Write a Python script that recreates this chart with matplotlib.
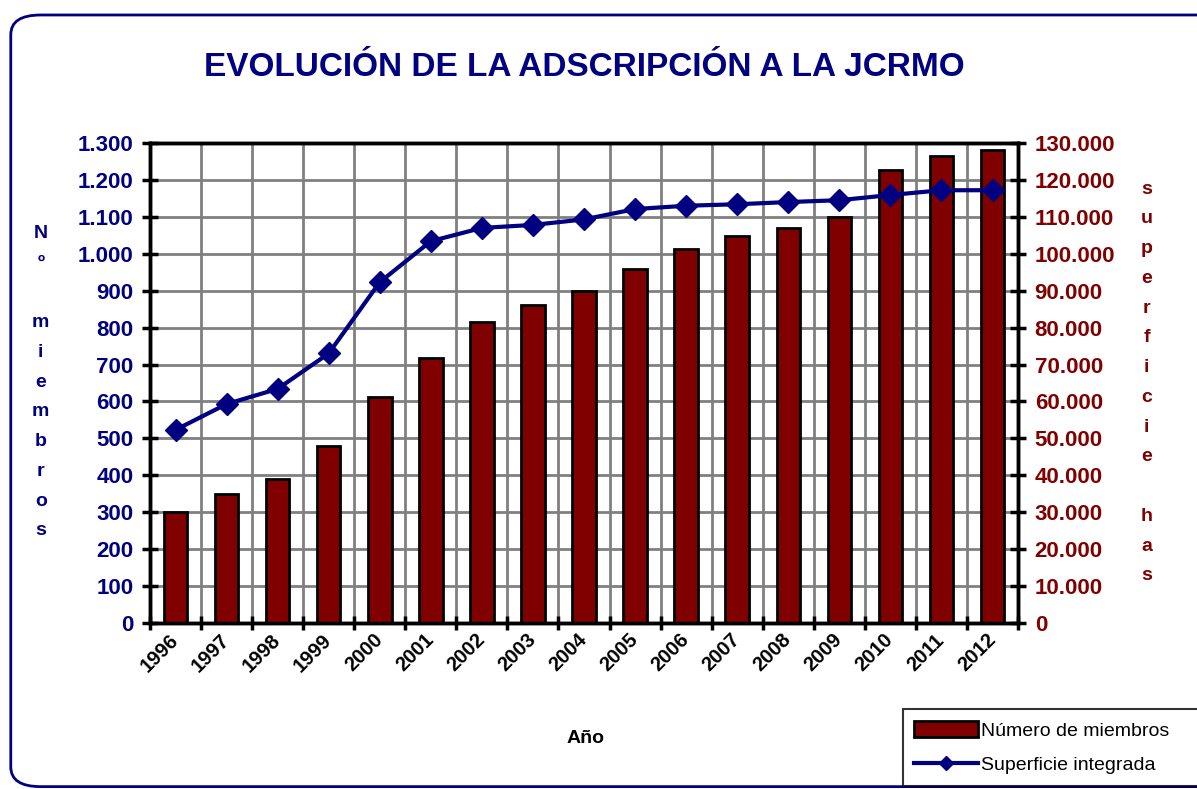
import numpy as np
import matplotlib
matplotlib.use("Agg")
import matplotlib.pyplot as plt
from matplotlib.ticker import FuncFormatter, FixedLocator, NullFormatter
from matplotlib.patches import FancyBboxPatch
from matplotlib.lines import Line2D
from matplotlib.patches import Patch

plt.rcParams['font.family'] = ['Liberation Sans', 'DejaVu Sans']

# data
years = ['1996', '1997', '1998', '1999', '2000', '2001', '2002', '2003', '2004',
         '2005', '2006', '2007', '2008', '2009', '2010', '2011', '2012']
miembros = [300, 348, 390, 480, 613, 718, 814, 860, 898,
            960, 1013, 1047, 1070, 1100, 1227, 1265, 1280]
superficie = [52300, 59300, 63400, 73000, 92300, 103400, 107000, 107800, 109300,
              112100, 113000, 113400, 114000, 114500, 115900, 117200, 117200]

navy = '#000080'
maroon = '#800000'

def miles(v, pos):
    return f"{int(round(v)):,}".replace(',', '.')

fig = plt.figure(figsize=(11.97, 7.89), dpi=100)
ax = fig.add_axes([0.1253, 0.2104, 0.7252, 0.6084])
ax2 = ax.twinx()

x = np.arange(len(years))
ax.bar(x, miembros, width=0.46, color=maroon, edgecolor='black', linewidth=2, zorder=3)
ax2.plot(x, superficie, color=navy, lw=3, marker='D', markersize=11, zorder=4)

ax.set_xlim(-0.5, len(years) - 0.5)
ax.set_ylim(0, 1300)
ax2.set_ylim(0, 130000)
ax.set_yticks(np.arange(0, 1301, 100))
ax2.set_yticks(np.arange(0, 130001, 10000))
ax.yaxis.set_major_formatter(FuncFormatter(miles))
ax2.yaxis.set_major_formatter(FuncFormatter(miles))

# category boundaries carry ticks and vertical gridlines; labels sit at centers
ax.xaxis.set_major_locator(FixedLocator(np.arange(-0.5, len(years), 1.0)))
ax.xaxis.set_major_formatter(NullFormatter())
ax.xaxis.set_minor_locator(FixedLocator(x))
ax.set_xticklabels(years, minor=True)
ax.tick_params(axis='x', which='minor', length=0, pad=10)
for lab in ax.get_xticklabels(minor=True):
    lab.set_rotation(45)
    lab.set_ha('right')
    lab.set_va('center')
    lab.set_rotation_mode('anchor')
    lab.set_fontsize(14.5)
    lab.set_fontweight('bold')

ax.grid(True, which='major', color='#808080', lw=2, zorder=0)
ax.set_axisbelow(True)

ax.tick_params(axis='x', which='major', direction='inout', length=10, width=2.5)
ax.tick_params(axis='y', direction='inout', length=12, width=2.5,
               labelsize=16, labelcolor=navy, pad=6)
ax2.tick_params(axis='y', direction='inout', length=12, width=2.5,
                labelsize=16, labelcolor=maroon, pad=6)
for lab in ax.get_yticklabels():
    lab.set_fontweight('bold')
for lab in ax2.get_yticklabels():
    lab.set_fontweight('bold')
for a in (ax, ax2):
    for s in a.spines.values():
        s.set_linewidth(2.5)
        s.set_color('black')

fig.text(0.488, 0.915, 'EVOLUCIÓN DE LA ADSCRIPCIÓN A LA JCRMO',
         fontsize=24, fontweight='bold', color=navy, ha='center', va='center')

fig.text(0.034, 0.715, '\n'.join(['N', 'º', '', 'm', 'i', 'e', 'm', 'b', 'r', 'o', 's']),
         fontsize=14, fontweight='bold', color=navy, ha='center', va='top',
         linespacing=1.98)
fig.text(0.958, 0.771, '\n'.join(['s', 'u', 'p', 'e', 'r', 'f', 'i', 'c', 'i', 'e', '', 'h', 'a', 's']),
         fontsize=14, fontweight='bold', color=maroon, ha='center', va='top',
         linespacing=1.98)
fig.text(0.489, 0.064, 'Año', fontsize=14, fontweight='bold', ha='center', va='center')

handles = [Patch(facecolor=maroon, edgecolor='black', lw=2),
           Line2D([0], [0], color=navy, lw=3, marker='D', markersize=7)]
leg = fig.legend(handles, ['Número de miembros', 'Superficie integrada'],
                 loc='lower left', bbox_to_anchor=(0.754, 0.004, 0.25, 0.1),
                 mode='expand', fontsize=14, frameon=True, fancybox=False,
                 edgecolor='black', handlelength=3.3, handleheight=0.9,
                 handletextpad=0.15, borderaxespad=0, labelspacing=0.8,
                 borderpad=0.6)
leg.get_frame().set_linewidth(1.5)

border = FancyBboxPatch((0.009, 0.003), 1.02, 0.978, transform=fig.transFigure,
                        boxstyle='round,pad=0,rounding_size=0.025', fill=False,
                        edgecolor=navy, lw=2, clip_on=False)
fig.patches.append(border)

fig.savefig('out.png', dpi=100)
